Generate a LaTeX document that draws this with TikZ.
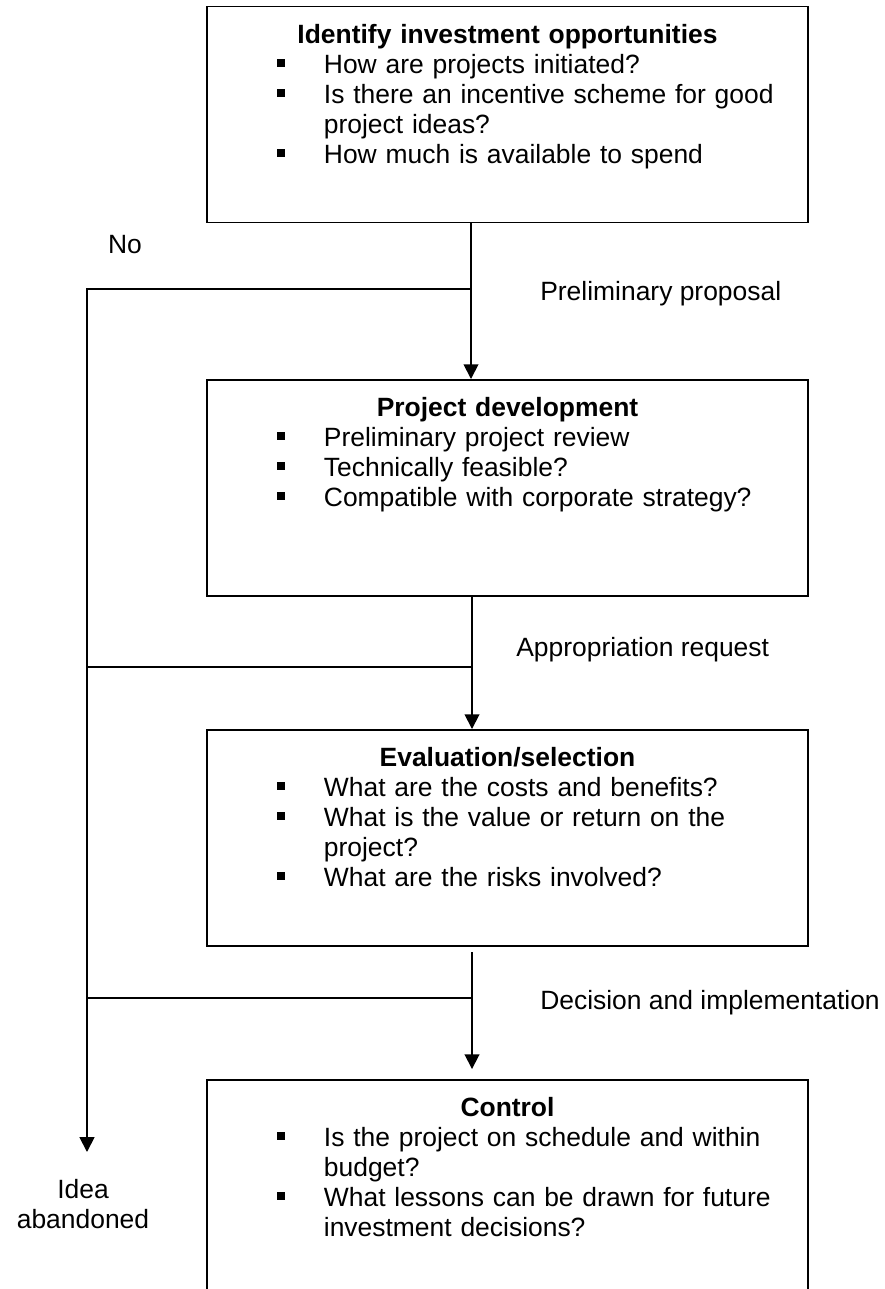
\documentclass[tikz,border=0pt]{standalone}
\usepackage{fontspec}
\setmainfont{Liberation Sans}
\usetikzlibrary{arrows.meta}
\setlength{\parindent}{0pt}
\setlength{\parskip}{0pt}
\newcommand{\sqbul}{\rule[4.3pt]{5.7pt}{5.7pt}}
\newcommand{\stagehead}[1]{{\centering\bfseries #1\par}}
\newcommand{\bul}[1]{{\leftskip=83.2pt\rightskip=0pt plus 1fil\noindent\llap{\makebox[33.4pt][l]{\sqbul}}#1\par}}
\begin{document}
\begin{tikzpicture}[x=0.025cm, y=-0.025cm,
    stage/.style={draw, line width=1.4pt, minimum width=427.5pt, minimum height=153.6pt, inner sep=0pt},
    list/.style={anchor=north, inner sep=0pt, text width=427.5pt, font=\fontsize{18.8}{21.34}\selectfont},
    tag/.style={inner sep=0pt, font=\fontsize{18.8}{21.34}\selectfont},
    flow/.style={line width=1.3pt},
    arr/.style={flow, -{Triangle[length=10.5pt,width=10.5pt]}}]
    \useasboundingbox (0,0) rectangle (884,1289);
    \clip (0,0) rectangle (884,1289);
    \node[stage] (opp) at (507.5,114.5) {};
    \node[stage] (dev) at (507.5,488) {};
    \node[stage] (eval) at (507.5,838) {};
    \node[stage] (ctrl) at (507.5,1188) {};
    \node[list] (oppTxt) at (507.5,24) {\stagehead{Identify investment opportunities}
        \bul{How are projects initiated?}
        \bul{Is there an incentive scheme for good\newline project ideas?}
        \bul{How much is available to spend}};
    \node[list] (devTxt) at (507.5,397) {\stagehead{Project development}
        \bul{Preliminary project review}
        \bul{Technically feasible?}
        \bul{Compatible with corporate strategy?}};
    \node[list] (evalTxt) at (507.5,747) {\stagehead{Evaluation/selection}
        \bul{What are the costs and benefits?}
        \bul{What is the value or return on the\newline project?}
        \bul{What are the risks involved?}};
    \node[list] (ctrlTxt) at (507.5,1097) {\stagehead{Control}
        \bul{Is the project on schedule and within\newline budget?}
        \bul{What lessons can be drawn for future\newline investment decisions?}};
    \coordinate (j1) at (471,289);
    \coordinate (j2) at (472,667);
    \coordinate (j3) at (472,998);
    \coordinate (bend) at (87,289);
    \coordinate (drop) at (87,1152);
    \draw[arr] (opp.south -| j1) -- (dev.north -| j1);
    \draw[arr] (dev.south -| j2) -- (eval.north -| j2);
    \draw[arr, shorten <=3.6pt, shorten >=7.1pt] (eval.south -| j3) -- (ctrl.north -| j3);
    \draw[arr] (j1) -- (bend) -- (drop);
    \draw[flow] (j2) -- (j2 -| bend);
    \draw[flow] (j3) -- (j3 -| bend);
    \node[tag, anchor=base] (no) at (125,253) {No};
    \node[tag, anchor=base west] (prop) at (540,300) {Preliminary proposal};
    \node[tag, anchor=base west] (req) at (516,656) {Appropriation request};
    \node[tag, anchor=base west] (impl) at (540,1009) {Decision and implementation};
    \node[tag, align=center, anchor=north] (quit) at (83,1179) {Idea\\abandoned};
\end{tikzpicture}
\end{document}
